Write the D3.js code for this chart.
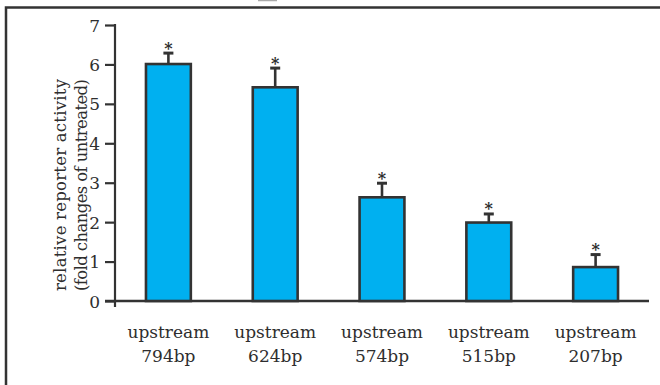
<!DOCTYPE html>
<html>
<head>
<meta charset="utf-8">
<script src="https://cdn.jsdelivr.net/npm/d3@7"></script>
<style>
  html, body { margin: 0; padding: 0; background: #fff; }
  svg { display: block; }
  text { font-family: "DejaVu Serif", "Liberation Serif", serif; fill: #2e2e2e; }
</style>
</head>
<body>
<svg id="chart" width="660" height="385"></svg>
<script>
// Reporter constructs and their induced activity (fold change vs. untreated)
const constructs = ["794bp", "624bp", "574bp", "515bp", "207bp"];
const activity = [6.01, 5.42, 2.63, 1.99, 0.86];
const errors = [0.29, 0.50, 0.37, 0.23, 0.33];
const significant = [true, true, true, true, true];
const yTicks = [0, 1, 2, 3, 4, 5, 6, 7];

const svg = d3.select("#chart");
const ink = "#333";

// Panel frame
svg.append("path")
  .attr("d", "M6,390 L6,7.5 L665,7.5")
  .attr("fill", "none").attr("stroke", ink).attr("stroke-width", 2.5);
svg.append("line")
  .attr("x1", 258).attr("x2", 277).attr("y1", 0.5).attr("y2", 0.5)
  .attr("stroke", "#aaa").attr("stroke-width", 1.5);

const x = d3.scaleBand()
  .domain(constructs)
  .range([115, 649])
  .paddingInner(0.58)
  .paddingOuter(0.29);

const y = d3.scaleLinear().domain([0, 7]).range([301, 25]);

// Y axis
const yAxis = svg.append("g")
  .attr("transform", "translate(115,0)")
  .call(d3.axisLeft(y).tickValues(yTicks).tickFormat(d3.format("d"))
    .tickSize(10).tickSizeOuter(0).tickPadding(5));
yAxis.select(".domain").remove();
yAxis.selectAll(".tick line").attr("stroke", ink).attr("stroke-width", 2.2);
yAxis.selectAll(".tick text")
  .style("font-size", "17px").style("font-family", "DejaVu Serif, serif")
  .attr("fill", "#2e2e2e").attr("dy", "0.36em");
svg.append("line")
  .attr("x1", 115).attr("x2", 115).attr("y1", y(7) - 1).attr("y2", 307)
  .attr("stroke", ink).attr("stroke-width", 2.2);

// X axis baseline
svg.append("line")
  .attr("x1", 105).attr("x2", 649).attr("y1", y(0)).attr("y2", y(0))
  .attr("stroke", ink).attr("stroke-width", 2.5);

// Bars
svg.append("g").selectAll("rect")
  .data(constructs)
  .join("rect")
  .attr("x", d => x(d))
  .attr("width", x.bandwidth())
  .attr("y", (d, i) => y(activity[i]))
  .attr("height", (d, i) => y(0) - y(activity[i]))
  .attr("fill", "#00b0f0")
  .attr("stroke", ink)
  .attr("stroke-width", 2.6);

// Error bars (upper only)
const eb = svg.append("g");
constructs.forEach((c, i) => {
  const cx = x(c) + x.bandwidth() / 2;
  const top = y(activity[i] + errors[i]);
  eb.append("line")
    .attr("x1", cx).attr("x2", cx)
    .attr("y1", y(activity[i])).attr("y2", top)
    .attr("stroke", ink).attr("stroke-width", 2.6);
  eb.append("line")
    .attr("x1", cx - 5).attr("x2", cx + 5)
    .attr("y1", top + 0.5).attr("y2", top + 0.5)
    .attr("stroke", ink).attr("stroke-width", 3);
  if (significant[i]) {
    eb.append("text")
      .attr("x", cx).attr("y", top + 1)
      .attr("text-anchor", "middle")
      .style("font-size", "16px").style("font-weight", "bold")
      .text("*");
  }
});

// Category labels
const labels = svg.append("g");
constructs.forEach(c => {
  const cx = x(c) + x.bandwidth() / 2;
  const t = labels.append("text")
    .attr("text-anchor", "middle")
    .style("font-size", "17px");
  t.append("tspan").attr("x", cx).attr("y", 338).text("upstream");
  t.append("tspan").attr("x", cx).attr("y", 362).text(c);
});

// Y axis title (two lines, rotated)
const titleLines = ["relative reporter activity", "(fold changes of untreated)"];
const titleBase = [66, 87];
titleLines.forEach((s, i) => {
  svg.append("text")
    .attr("transform", `translate(${titleBase[i]},185) rotate(-90)`)
    .attr("text-anchor", "middle")
    .attr("textLength", 212)
    .attr("lengthAdjust", "spacing")
    .style("font-size", "16.5px")
    .text(s);
});
</script>
</body>
</html>
